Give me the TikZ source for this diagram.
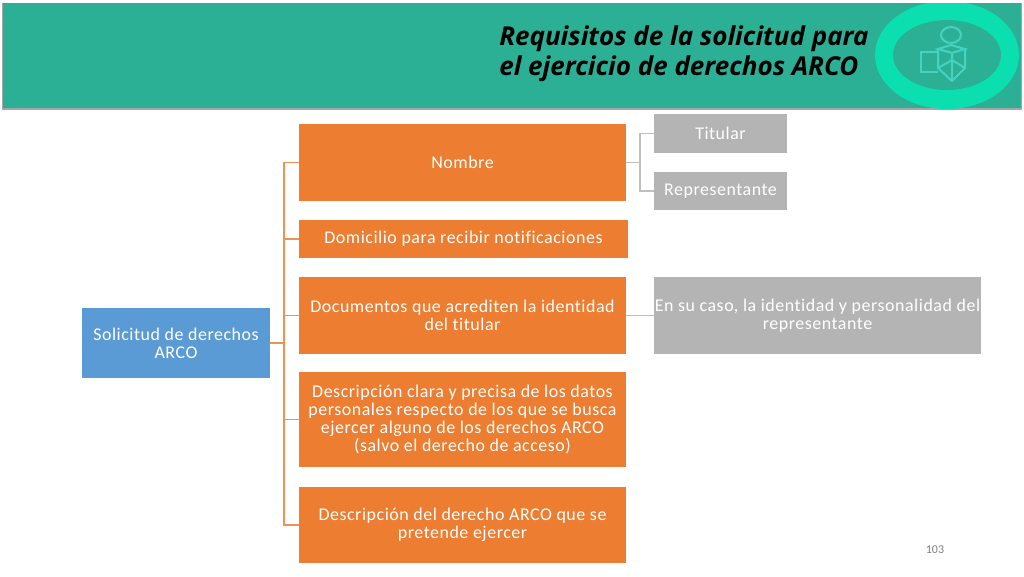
\documentclass[tikz,border=0pt]{standalone}
\usepackage{fontspec}
\setmainfont[LetterSpace=3,Ligatures=NoCommon]{Carlito}
\newfontfamily\plainfont{Carlito}
\newfontfamily\titlefont{Open Sans}
\usetikzlibrary{calc}
\definecolor{bannergreen}{HTML}{2BB096}
\definecolor{ringgreen}{HTML}{0BDFB0}
\definecolor{icongreen}{HTML}{45D3BF}
\definecolor{boxorange}{HTML}{ED7D31}
\definecolor{boxblue}{HTML}{5B9BD5}
\definecolor{boxgray}{HTML}{B4B4B4}
\tikzset{
  orangebox/.style={fill=boxorange, text=white, align=center, inner sep=0pt, font=\fontsize{13.45}{13.5}\selectfont},
  graybox/.style={orangebox, fill=boxgray},
  bluebox/.style={orangebox, fill=boxblue},
  orangeline/.style={boxorange!85!white, line width=0.85pt},
  grayline/.style={boxgray!85!white, line width=0.85pt},
  iconline/.style={icongreen, line width=1.5pt}
}
\begin{document}
\begin{tikzpicture}[x=0.75pt, y=-0.75pt]
      \useasboundingbox (0,0) rectangle (1024,576);
      % banner
      \fill[black!35] (2,2.5) rectangle (1022,110);
      \fill[bannergreen] (3,3) rectangle (1021,108);
      \begin{scope}
        \clip (3,3) rectangle (1021,108);
        \fill[ringgreen] (947,55) ellipse [x radius=72, y radius=54];
        \fill[bannergreen] (947,55) ellipse [x radius=54, y radius=35];
      \end{scope}
      % icon
      \draw[iconline] (951,35) ellipse [x radius=10, y radius=8];
      \draw[iconline] (938,52) -- (921,52) -- (921,72) -- (938,72);
      \draw[iconline] (938,49) -- (951,45) -- (965,49) -- (952,53) -- cycle;
      \draw[iconline] (938,49) -- (938,68) -- (952,81) -- (965,68) -- (965,49);
      \draw[iconline] (952,53) -- (952,81) (938,68) -- (952,60) -- (965,68);
      % title
      \node[anchor=west, align=left, inner sep=0pt, font=\titlefont\bfseries\itshape\fontsize{19.5}{22.5}\selectfont] (title) at (499,54) {Requisitos de la solicitud para\\el ejercicio de derechos ARCO};
      % boxes
      \node[bluebox, minimum width=141pt, minimum height=52.5pt] (solicitud) at (176,343) {Solicitud de derechos\\ARCO};
      \node[orangebox, minimum width=245.25pt, minimum height=57.75pt] (nombre) at (462.5,162.5) {Nombre};
      \node[orangebox, minimum width=246.75pt, minimum height=28.5pt] (domicilio) at (463.5,239) {Domicilio para recibir notificaciones};
      \node[orangebox, minimum width=245.25pt, minimum height=57.75pt] (documentos) at (462.5,315.5) {Documentos que acrediten la identidad\\del titular};
      \node[orangebox, minimum width=245.25pt, minimum height=71.25pt] (descripcion) at (462.5,419.5) {Descripción clara y precisa de los datos\\personales respecto de los que se busca\\ejercer alguno de los derechos ARCO\\(salvo el derecho de acceso)};
      \node[orangebox, minimum width=245.25pt, minimum height=57pt] (derecho) at (462.5,525) {Descripción del derecho ARCO que se\\pretende ejercer};
      \node[graybox, minimum width=99.75pt, minimum height=29.25pt] (titular) at (720.5,133.5) {Titular};
      \node[graybox, minimum width=99.75pt, minimum height=28.5pt] (representante) at (720.5,191) {Representante};
      \node[graybox, minimum width=245.25pt, minimum height=57.75pt] (identidad) at (817.5,315.5) {En su caso, la identidad y personalidad del\\representante};
      % page number
      \node[text=black!50, inner sep=0pt, font=\plainfont\fontsize{9}{11}\selectfont] (pagina) at (935,549.5) {103};
      % orange connectors
      \coordinate (tronco) at (284,343);
      \draw[orangeline] (solicitud.east |- tronco) -- (tronco);
      \draw[orangeline] (nombre.west) -| (tronco) |- (derecho.west);
      \draw[orangeline] (domicilio.west) -- (domicilio.west -| tronco);
      \draw[orangeline] (documentos.west) -- (documentos.west -| tronco);
      \draw[orangeline] (descripcion.west) -- (descripcion.west -| tronco);
      % gray connectors
      \coordinate (rama) at (640,162.5);
      \draw[grayline] (nombre.east) -- (rama);
      \draw[grayline] (titular.west) -| (rama) |- (representante.west);
      \draw[grayline] (documentos.east) -- (identidad.west);
    \end{tikzpicture}
\end{document}
